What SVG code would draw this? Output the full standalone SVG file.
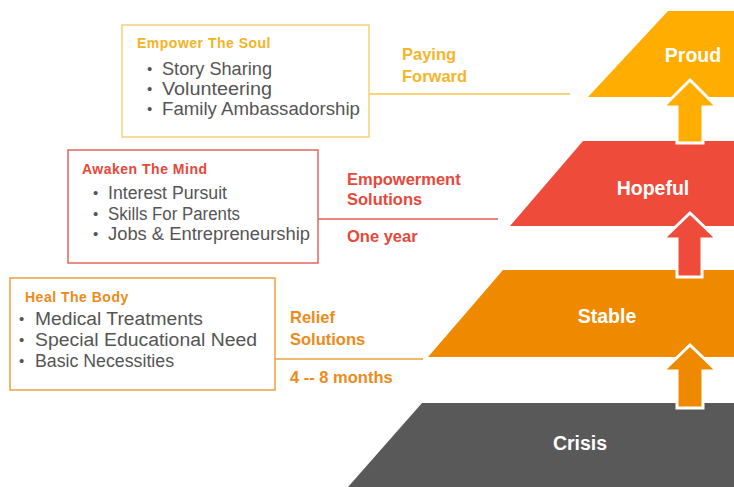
<svg xmlns="http://www.w3.org/2000/svg" width="734" height="487" viewBox="0 0 734 487">
<style>
.box{fill:#fff;stroke-width:1.5}
.title{font-family:"Liberation Sans",Arial,sans-serif;font-weight:bold;font-size:14px;letter-spacing:0.5px}
.item{font-family:"Liberation Sans",Arial,sans-serif;font-size:18px;fill:#555}
.bul{font-family:"Liberation Sans",Arial,sans-serif;font-size:15px;fill:#555}
.lbl{font-family:"Liberation Sans",Arial,sans-serif;font-weight:bold;font-size:16.5px}
.lvl{font-family:"Liberation Sans",Arial,sans-serif;font-weight:bold;font-size:19.5px;fill:#fff;text-anchor:middle}
.arrow{stroke:#fff;stroke-width:3;stroke-linejoin:miter}
.conn{fill:none;stroke-width:1.3}
</style>
<rect width="734" height="487" fill="#fff"/>

<g id="level-proud">
<polygon points="668,11 734,11 734,97 588,97" fill="#FFAD00"/>
<text class="lvl" x="693" y="62">Proud</text>
</g>
<g id="level-hopeful">
<polygon points="583,141 734,141 734,226 510,226" fill="#EF4B3A"/>
<text class="lvl" x="653" y="195">Hopeful</text>
</g>
<g id="level-stable">
<polygon points="503,270 734,270 734,357 428,357" fill="#EF8A00"/>
<text class="lvl" x="607" y="323">Stable</text>
</g>
<g id="level-crisis">
<polygon points="422,403 734,403 734,487 348,487" fill="#595959"/>
<text class="lvl" x="580" y="450">Crisis</text>
</g>

<g id="arrows">
<polygon class="arrow" points="690,80 717,107 703,107 703,143 677,143 677,107 663,107" fill="#FFAD00"/>
<polygon class="arrow" points="690,213 717,239 702,239 702,277 677,277 677,239 663,239" fill="#EF4B3A"/>
<polygon class="arrow" points="690,345 717,371 703,371 703,408 677,408 677,371 663,371" fill="#EF8A00"/>
</g>

<g id="connectors">
<line class="conn" x1="369" y1="94" x2="570" y2="94" stroke="#F7C64A"/>
<line class="conn" x1="318" y1="219" x2="498" y2="219" stroke="#E35D52"/>
<line class="conn" x1="275" y1="359" x2="423" y2="359" stroke="#EDA040"/>
</g>

<g id="box-soul">
<rect class="box" x="122" y="25" width="247" height="112" stroke="#F5D27A"/>
<text class="title" x="137" y="48" fill="#F5B324">Empower The Soul</text>
<text class="bul" x="147" y="74">•</text><text class="item" x="162" y="75" textLength="110" lengthAdjust="spacingAndGlyphs">Story Sharing</text>
<text class="bul" x="147" y="94">•</text><text class="item" x="162" y="95" textLength="110" lengthAdjust="spacingAndGlyphs">Volunteering</text>
<text class="bul" x="147" y="114">•</text><text class="item" x="162" y="115" textLength="198" lengthAdjust="spacingAndGlyphs">Family Ambassadorship</text>
</g>

<g id="label-paying">
<text class="lbl" x="402" y="60" fill="#F5B52A">Paying</text>
<text class="lbl" x="402" y="82" fill="#F5B52A">Forward</text>
</g>

<g id="box-mind">
<rect class="box" x="68" y="150" width="250" height="113" stroke="#E2675E"/>
<text class="title" x="82" y="174" fill="#E8473A">Awaken The Mind</text>
<text class="bul" x="93" y="198">•</text><text class="item" x="108" y="199" textLength="119" lengthAdjust="spacingAndGlyphs">Interest Pursuit</text>
<text class="bul" x="93" y="219">•</text><text class="item" x="108" y="220" textLength="132" lengthAdjust="spacingAndGlyphs">Skills For Parents</text>
<text class="bul" x="93" y="239">•</text><text class="item" x="108" y="240" textLength="202" lengthAdjust="spacingAndGlyphs">Jobs &amp; Entrepreneurship</text>
</g>

<g id="label-empowerment">
<text class="lbl" x="347" y="185" fill="#E8473A">Empowerment</text>
<text class="lbl" x="347" y="205" fill="#E8473A">Solutions</text>
<text class="lbl" x="347" y="242" fill="#E8473A">One year</text>
</g>

<g id="box-body">
<rect class="box" x="10" y="278" width="265" height="112" stroke="#EBA040"/>
<text class="title" x="25" y="302" fill="#EE8A1A">Heal The Body</text>
<text class="bul" x="19" y="324">•</text><text class="item" x="35" y="325" textLength="168" lengthAdjust="spacingAndGlyphs">Medical Treatments</text>
<text class="bul" x="19" y="345">•</text><text class="item" x="35" y="346" textLength="222" lengthAdjust="spacingAndGlyphs">Special Educational Need</text>
<text class="bul" x="19" y="366">•</text><text class="item" x="35" y="367" textLength="139" lengthAdjust="spacingAndGlyphs">Basic Necessities</text>
</g>

<g id="label-relief">
<text class="lbl" x="290" y="323" fill="#EE8A1A">Relief</text>
<text class="lbl" x="290" y="345" fill="#EE8A1A">Solutions</text>
<text class="lbl" x="290" y="383" fill="#EE8A1A">4 -- 8 months</text>
</g>
</svg>
